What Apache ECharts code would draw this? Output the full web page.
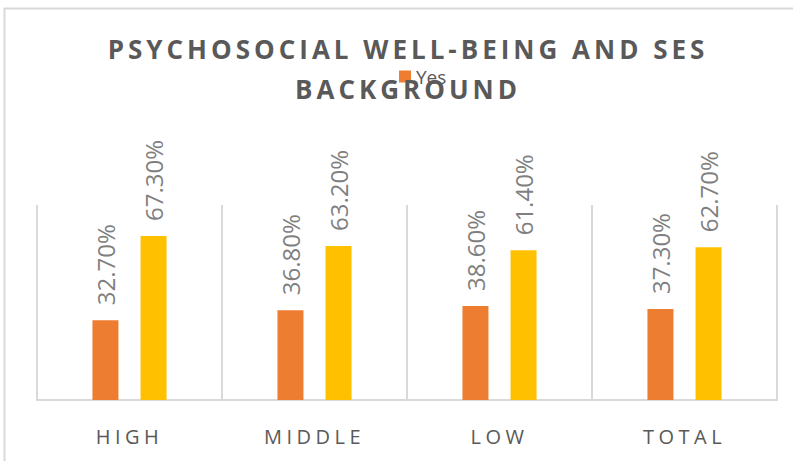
<!DOCTYPE html>
<html>
<head>
<meta charset="utf-8">
<script src="https://cdn.jsdelivr.net/npm/echarts@6/dist/echarts.min.js"></script>
<style>
html,body{margin:0;padding:0;background:#fff;}
#chart{width:793px;height:461px;}
#chart text[style*="bold"]{letter-spacing:4px;}
#chart text[style*="20px"]{letter-spacing:4.5px;}
</style>
</head>
<body>
<div id="chart"></div>
<script>
var categories = ['HIGH', 'MIDDLE', 'LOW', 'TOTAL'];
var yesValues = [32.7, 36.8, 38.6, 37.3];
var noValues = [67.3, 63.2, 61.4, 62.7];

var chart = echarts.init(document.getElementById('chart'), null, {renderer: 'svg'});

var labelOpt = {
    show: true,
    position: 'top',
    rotate: 90,
    align: 'left',
    verticalAlign: 'middle',
    distance: 15,
    color: '#7f7f7f',
    fontSize: 24,
    fontFamily: 'Open Sans',
    formatter: function (p) { return p.value.toFixed(2) + '%'; }
};

var option = {
    backgroundColor: '#fff',
    animation: false,
    title: {
        text: 'PSYCHOSOCIAL WELL-BEING AND SES\nBACKGROUND',
        left: 403,
        textAlign: 'center',
        top: 24,
        textStyle: {
            color: '#595959',
            fontSize: 26,
            fontWeight: 'bold',
            fontFamily: 'Open Sans',
            lineHeight: 40
        }
    },
    legend: {
        data: ['Yes'],
        left: 399,
        top: 67,
        padding: 0,
        icon: 'rect',
        itemWidth: 12,
        itemHeight: 12,
        textStyle: {color: '#595959', fontSize: 19, fontFamily: 'Open Sans'}
    },
    graphic: [{
        type: 'rect',
        shape: {x: 4.5, y: 8.5, width: 900, height: 600},
        style: {fill: 'none', stroke: '#d9d9d9', lineWidth: 2},
        silent: true
    }],
    grid: {left: 37, right: 16, top: 205, bottom: 61},
    xAxis: {
        type: 'category',
        data: categories,
        axisLine: {lineStyle: {color: '#d9d9d9', width: 2}},
        axisTick: {show: false},
        splitLine: {show: true, lineStyle: {color: '#d9d9d9', width: 2}},
        axisLabel: {color: '#595959', fontSize: 20, fontFamily: 'Open Sans', margin: 26}
    },
    yAxis: {
        type: 'value',
        min: 0,
        max: 80,
        show: false,
        splitLine: {show: false}
    },
    series: [
        {
            name: 'Yes',
            type: 'bar',
            data: yesValues,
            barWidth: 26,
            barGap: '85%',
            itemStyle: {color: '#ed7d31'},
            label: labelOpt
        },
        {
            name: 'No',
            type: 'bar',
            data: noValues,
            barWidth: 26,
            itemStyle: {color: '#ffc000'},
            label: labelOpt
        }
    ]
};
chart.setOption(option);
window.onresize = chart.resize;
</script>
</body>
</html>
